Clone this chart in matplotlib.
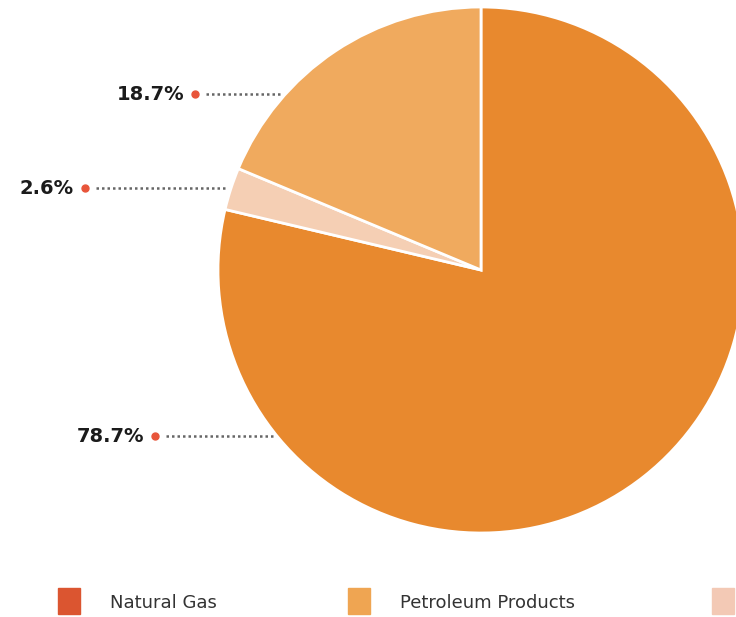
import numpy as np
import matplotlib.pyplot as plt
from matplotlib.patches import Rectangle

# Data
shares = [78.7, 2.6, 18.7]
slice_colors = ['#E8892E', '#F5CFB4', '#F0AA5E']
label_rows = [436, 188, 94]          # label y positions (pixels from top)
label_text = ['78.7%', '2.6%', '18.7%']
label_right = [144, 74, 184]         # right edge of label text
legend_names = ['Natural Gas', 'Petroleum Products', '']
legend_colors = ['#DB5530', '#EFA552', '#F3C9B5']
legend_x = [58, 348, 712]

W, H = 736, 617
fig = plt.figure(figsize=(W / 100, H / 100), dpi=100)
ax = fig.add_axes([0, 0, 1, 1])

# Pie (pixel coords, y flipped)
cx, cy, r = 481, H - 270, 263
ax.pie(shares, colors=slice_colors, startangle=90, counterclock=False,
       center=(cx, cy), radius=r, frame=True,
       wedgeprops=dict(edgecolor='white', linewidth=2))
ax.set_aspect('equal')
ax.set_xlim(0, W)
ax.set_ylim(0, H)
ax.axis('off')

# Labels with dots and dotted leaders
for y, txt, xr in zip(label_rows, label_text, label_right):
    yy = H - y
    ax.text(xr, yy, txt, ha='right', va='center', fontsize=14,
            fontweight='bold', color='#1b1b1b', family='DejaVu Sans')
    ax.plot(xr + 11, yy, 'o', color='#E8553A', markersize=5)
    dy = yy - cy
    x_end = cx - np.sqrt(r ** 2 - dy ** 2) - 4
    ax.plot([xr + 22, x_end], [yy, yy], linestyle=(0, (1, 1.2)),
            color='#666666', linewidth=1.8)

# Legend
for x, name, col in zip(legend_x, legend_names, legend_colors):
    ax.add_patch(Rectangle((x, H - 614), 22, 26, color=col))
    if name:
        ax.text(x + 52, H - 603, name, ha='left', va='center', fontsize=13,
                color='#333333', family='DejaVu Sans')

fig.savefig('out.png', dpi=100)
